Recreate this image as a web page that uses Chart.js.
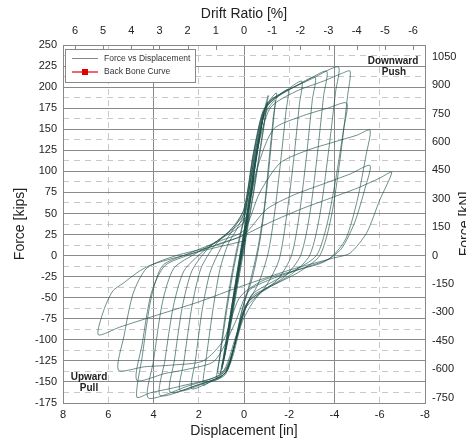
<!DOCTYPE html>
<html>
<head>
<meta charset="utf-8">
<script src="https://cdn.jsdelivr.net/npm/chart.js@4.4.0/dist/chart.umd.min.js"></script>
<style>
  html, body { margin: 0; padding: 0; background: #fff; overflow: hidden; }
  #wrap { width: 466px; height: 441px; }
</style>
</head>
<body>
<div id="wrap"><canvas id="hysteresisChart" width="466" height="441"></canvas></div>
<script>
// axis ticks and grid values
const displacementTicks = [8, 6, 4, 2, 0, -2, -4, -6, -8];
const majorDispGrid = [4, 0, -4];
const minorDispGrid = [6, 2, -2, -6];
const forceTicks = [-175, -150, -125, -100, -75, -50, -25, 0, 25, 50, 75, 100, 125, 150, 175, 200, 225, 250];
const minorForceGrid = [-162.5, -137.5, -112.5, -87.5, -62.5, -37.5, -12.5, 12.5, 37.5, 62.5, 87.5, 112.5, 137.5, 162.5, 187.5, 212.5, 237.5];
const driftTicks = [6, 5, 4, 3, 2, 1, 0, -1, -2, -3, -4, -5, -6];
const driftLimit = 6.425;
const kNTicks = [1050, 900, 750, 600, 450, 300, 150, 0, -150, -300, -450, -600, -750];
const KIPS_TO_KN = 4.44822;

// [displacement in, force kips]
const elasticLoops = [
  [0, 0], [-0.1, 28], [-0.2, 48], [-0.12, 36], [0.05, 8], [0.25, -22], [0.38, -40], [0.3, -30], [0.12, -2],
  [-0.1, 30], [-0.32, 70], [-0.45, 95], [-0.36, 80], [-0.05, 28], [0.3, -28], [0.58, -72], [0.7, -90], [0.6, -78], [0.3, -30],
  [0.02, 20], [-0.3, 72], [-0.55, 118], [-0.68, 140], [-0.6, 128], [-0.25, 62], [0.15, -5], [0.5, -60], [0.78, -106], [0.88, -122], [0.8, -110], [0.45, -48],
  [0.1, 12], [-0.3, 75], [-0.68, 140], [-0.88, 168], [-0.8, 158], [-0.45, 98], [-0.05, 30], [0.35, -35], [0.72, -98], [0.98, -135], [0.9, -124], [0.55, -62]
];
const yieldLoops = [
  [0.2, -8], [-0.2, 55], [-0.6, 125], [-0.92, 175], [-1.07, 190], [-1.0, 176], [-0.78, 135], [-0.45, 78], [-0.05, 15], [0.3, -38], [0.65, -92], [0.9, -126], [1.05, -140], [0.95, -126], [0.65, -78], [0.3, -20],
  [-0.05, 35], [-0.45, 105], [-0.85, 165], [-1.02, 182], [-0.95, 168], [-0.7, 125], [-0.35, 65], [0.05, 5], [0.4, -50], [0.75, -105], [0.98, -132], [0.9, -120], [0.6, -70], [0.25, -10],
  [-0.1, 45], [-0.5, 115], [-0.88, 170], [-1.15, 185], [-1.44, 193], [-1.36, 176], [-1.18, 125], [-0.98, 72], [-0.72, 20], [-0.38, -25], [0.05, -62], [0.42, -105], [0.75, -133], [1.0, -141], [1.21, -145], [1.1, -125], [0.86, -76], [0.58, -28], [0.32, 8],
  [0, 45], [-0.45, 112], [-0.85, 163], [-1.15, 178], [-1.38, 184], [-1.3, 165], [-1.1, 112], [-0.9, 58], [-0.62, 10], [-0.28, -30], [0.12, -68], [0.48, -112], [0.8, -134], [1.15, -140], [1.05, -118], [0.78, -68], [0.5, -22], [0.25, 12],
  [-0.05, 50], [-0.45, 115], [-0.8, 165], [-1.1, 183], [-1.5, 190], [-1.95, 197], [-1.86, 172], [-1.62, 112], [-1.36, 52], [-1.06, 2], [-0.62, -34], [0, -64], [0.4, -105], [0.72, -135], [1.1, -146], [1.5, -150], [1.81, -154], [1.66, -120], [1.36, -62], [1.06, -16], [0.7, 14], [0.35, 30]
];
const peakLoops = [
  [0, 50], [-0.4, 115], [-0.8, 168], [-1.2, 185], [-1.8, 195], [-2.55, 207], [-2.45, 180], [-2.2, 115], [-1.9, 50], [-1.55, -5], [-1.0, -35], [-0.4, -55], [0.1, -80], [0.5, -120], [0.85, -142], [1.5, -150], [2.31, -158], [2.15, -125], [1.85, -65], [1.5, -20], [1.0, 10], [0.5, 30],
  [0, 55], [-0.4, 120], [-0.85, 172], [-1.4, 188], [-2.2, 200], [-3.14, 212], [-3.02, 185], [-2.75, 115], [-2.45, 50], [-2.1, 0], [-1.5, -28], [-0.7, -45], [0, -65], [0.45, -110], [0.85, -140], [1.8, -152], [2.83, -160], [2.65, -125], [2.3, -60], [1.9, -15], [1.3, 12], [0.6, 30],
  [0, 55], [-0.45, 125], [-0.95, 175], [-1.7, 193], [-2.6, 205], [-3.65, 219], [-3.52, 190], [-3.22, 115], [-2.9, 48], [-2.5, 0], [-1.8, -25], [-0.9, -40], [-0.1, -58], [0.4, -105], [0.85, -140], [2.0, -153], [3.27, -162], [3.08, -125], [2.72, -60], [2.3, -18], [1.6, 8], [0.7, 28],
  [0, 50], [-0.5, 125], [-1.05, 178], [-2.0, 197], [-3.0, 210], [-4.17, 224], [-4.05, 195], [-3.72, 120], [-3.35, 48], [-2.9, 0], [-2.1, -22], [-1.1, -38], [-0.2, -55], [0.35, -100], [0.85, -140], [2.2, -155], [3.71, -166], [3.5, -125], [3.12, -60], [2.65, -18], [1.8, 5], [0.8, 25],
  [0, 45], [-0.55, 120], [-1.15, 175], [-2.3, 195], [-3.5, 207], [-4.3, 216], [-4.69, 219], [-4.58, 190], [-4.25, 115], [-3.85, 45], [-3.35, 0], [-2.4, -20], [-1.3, -35], [-0.3, -50], [0.3, -95], [0.85, -138], [2.5, -155], [4.23, -169], [4.0, -125], [3.6, -55], [3.1, -15], [2.1, 3], [0.9, 22]
];
const degradedLoops = [
  [0, 40], [-0.6, 105], [-1.3, 150], [-2.5, 165], [-3.7, 175], [-4.54, 181], [-4.4, 150], [-4.05, 90], [-3.65, 35], [-3.2, 0], [-2.2, -18], [-1.2, -32], [-0.3, -48], [0.35, -95], [1.0, -140], [2.8, -155], [4.15, -163], [4.74, -168], [4.5, -120], [4.1, -50], [3.6, -12], [2.4, 3], [1.0, 18],
  [0, 30], [-0.7, 75], [-1.6, 110], [-2.8, 125], [-4.0, 135], [-5.0, 143], [-5.57, 149], [-5.4, 120], [-5.0, 65], [-4.5, 20], [-3.8, -3], [-2.6, -15], [-1.2, -28], [-0.2, -42], [0.4, -80], [1.3, -125], [2.5, -135], [3.5, -140], [4.74, -148], [4.5, -105], [4.1, -45], [3.5, -12], [2.3, 2], [1.0, 15],
  [0, 25], [-1.0, 55], [-2.2, 72], [-3.5, 85], [-4.7, 97], [-5.57, 107], [-5.35, 80], [-4.9, 40], [-4.3, 8], [-3.5, -8], [-2.2, -18], [-0.8, -30], [0.2, -50], [0.9, -100], [1.8, -125], [3.2, -130], [4.4, -132], [5.55, -136], [5.3, -95], [4.9, -45], [4.3, -15], [3.0, 0], [1.5, 10],
  [0.2, 22], [-1.2, 40], [-2.5, 55], [-3.8, 68], [-5.0, 80], [-6.0, 92], [-6.53, 99], [-6.0, 66], [-5.42, 27], [-4.69, 3], [-3.94, -3], [-2.03, -17], [0.18, -37], [2.0, -55], [4.0, -72], [5.5, -85], [6.44, -94], [6.2, -65], [5.8, -42], [5.35, -33], [4.6, -18], [4.0, -10], [2.25, 3], [-0.1, 18]
];
const backBone = [];

const FONT = 'Liberation Sans, Arial, sans-serif';
Chart.defaults.font.family = FONT;
Chart.defaults.color = '#222';

const loopPoints = [...elasticLoops, ...yieldLoops, ...peakLoops, ...degradedLoops].map(([d, f]) => ({ x: d, y: f }));

const setTicks = list => scale => { scale.ticks = list.map(v => ({ value: v })); };
const plain = v => String(v);

// legend, notes, inner ticks and the clipped kN title
const overlay = {
  id: 'overlay',
  afterDraw(chart) {
    const { ctx, chartArea: a, scales } = chart;
    ctx.save();
    ctx.strokeStyle = '#888';
    ctx.lineWidth = 1;
    driftTicks.forEach(d => {
      const px = Math.round(scales.x2.getPixelForValue(d)) + 0.5;
      ctx.beginPath();
      ctx.moveTo(px, a.top);
      ctx.lineTo(px, a.top + 5);
      ctx.stroke();
    });

    // legend box
    ctx.fillStyle = '#fff';
    ctx.fillRect(65.5, 49.5, 130, 33);
    ctx.strokeStyle = '#888';
    ctx.strokeRect(65.5, 49.5, 130, 33);
    const ds = chart.data.datasets;
    ctx.font = '8.5px ' + FONT;
    ctx.textBaseline = 'middle';
    ctx.textAlign = 'left';
    ctx.strokeStyle = '#888';
    ctx.beginPath(); ctx.moveTo(72, 58.5); ctx.lineTo(98, 58.5); ctx.stroke();
    ctx.fillStyle = '#333';
    ctx.fillText(ds[0].label, 104, 58.5);
    ctx.strokeStyle = ds[1].borderColor;
    ctx.lineWidth = 1.2;
    ctx.beginPath(); ctx.moveTo(72, 72); ctx.lineTo(98, 72); ctx.stroke();
    ctx.fillStyle = ds[1].backgroundColor;
    ctx.fillRect(82, 69, 6, 6);
    ctx.fillStyle = '#333';
    ctx.fillText(ds[1].label, 104, 72);

    // direction notes
    ctx.font = 'bold 10px ' + FONT;
    ctx.textAlign = 'center';
    ctx.fillStyle = '#222';
    ctx.fillText('Downward', 393, 61);
    ctx.fillText('Push', 394, 72);
    ctx.fillText('Upward', 89, 377);
    ctx.fillText('Pull', 89, 388);

    // right axis title, clipped by the page edge
    ctx.translate(469, (a.top + a.bottom) / 2);
    ctx.rotate(-Math.PI / 2);
    ctx.font = '14px ' + FONT;
    ctx.textBaseline = 'alphabetic';
    ctx.fillText('Force [kN]', 0, 0);
    ctx.restore();
  }
};

new Chart(document.getElementById('hysteresisChart').getContext('2d'), {
  type: 'scatter',
  data: {
    datasets: [{
      label: 'Force vs Displacement',
      data: loopPoints,
      showLine: true,
      borderColor: 'rgba(28, 78, 73, 0.8)',
      borderWidth: 0.8,
      pointRadius: 0,
      tension: 0.25,
      xAxisID: 'x',
      yAxisID: 'y'
    }, {
      label: 'Back Bone Curve',
      data: backBone,
      showLine: true,
      borderColor: '#e00000',
      backgroundColor: '#e00000',
      pointStyle: 'rect',
      xAxisID: 'x',
      yAxisID: 'y'
    }]
  },
  options: {
    responsive: false,
    animation: false,
    devicePixelRatio: 1,
    layout: { padding: 0 },
    plugins: { legend: { display: false }, tooltip: { enabled: false } },
    scales: {
      x: {
        type: 'linear', position: 'bottom', min: -8, max: 8, reverse: true,
        afterBuildTicks: setTicks(displacementTicks),
        afterFit: s => { s.height = 38; },
        ticks: { callback: plain, padding: 5, maxRotation: 0, autoSkip: false, font: { size: 11 } },
        grid: { drawTicks: false, color: c => majorDispGrid.includes(c.tick.value) ? '#8a8a8a' : 'rgba(0,0,0,0)' },
        border: { color: '#888' },
        title: { display: true, text: 'Displacement [in]', font: { size: 14 }, padding: { top: 0, bottom: 1 } }
      },
      xMinor: {
        type: 'linear', position: 'bottom', min: -8, max: 8, reverse: true,
        afterBuildTicks: setTicks(minorDispGrid),
        afterFit: s => { s.height = 0; },
        ticks: { display: false },
        grid: { drawTicks: false, color: '#c8c8c8' },
        border: { display: false, dash: [6, 5] }
      },
      y: {
        type: 'linear', position: 'left', min: -175, max: 250,
        afterBuildTicks: setTicks(forceTicks),
        afterFit: s => { s.width = 63; },
        ticks: { callback: plain, padding: 6, font: { size: 11 } },
        grid: { drawTicks: false, color: '#8a8a8a' },
        border: { color: '#888' },
        title: { display: true, text: 'Force [kips]', font: { size: 14 }, padding: { top: 12, bottom: 0 } }
      },
      yMinor: {
        type: 'linear', position: 'left', min: -175, max: 250,
        afterBuildTicks: setTicks(minorForceGrid),
        afterFit: s => { s.width = 0; },
        ticks: { display: false },
        grid: { drawTicks: false, color: '#c8c8c8' },
        border: { display: false, dash: [6, 5] }
      },
      x2: {
        type: 'linear', position: 'top', min: -driftLimit, max: driftLimit, reverse: true,
        afterBuildTicks: setTicks(driftTicks),
        afterFit: s => { s.height = 45; },
        ticks: { callback: plain, padding: 7, maxRotation: 0, autoSkip: false, font: { size: 11 } },
        grid: { drawOnChartArea: false, drawTicks: false },
        border: { color: '#888' },
        title: { display: true, text: 'Drift Ratio [%]', font: { size: 14 }, padding: { top: 6, bottom: 0 } }
      },
      y2: {
        type: 'linear', position: 'right', min: -175 * KIPS_TO_KN, max: 250 * KIPS_TO_KN,
        afterBuildTicks: setTicks(kNTicks),
        afterFit: s => { s.width = 41; },
        ticks: { callback: plain, padding: 7, font: { size: 11 } },
        grid: { drawOnChartArea: false, drawTicks: false },
        border: { color: '#888' }
      }
    }
  },
  plugins: [overlay]
});
</script>
</body>
</html>
